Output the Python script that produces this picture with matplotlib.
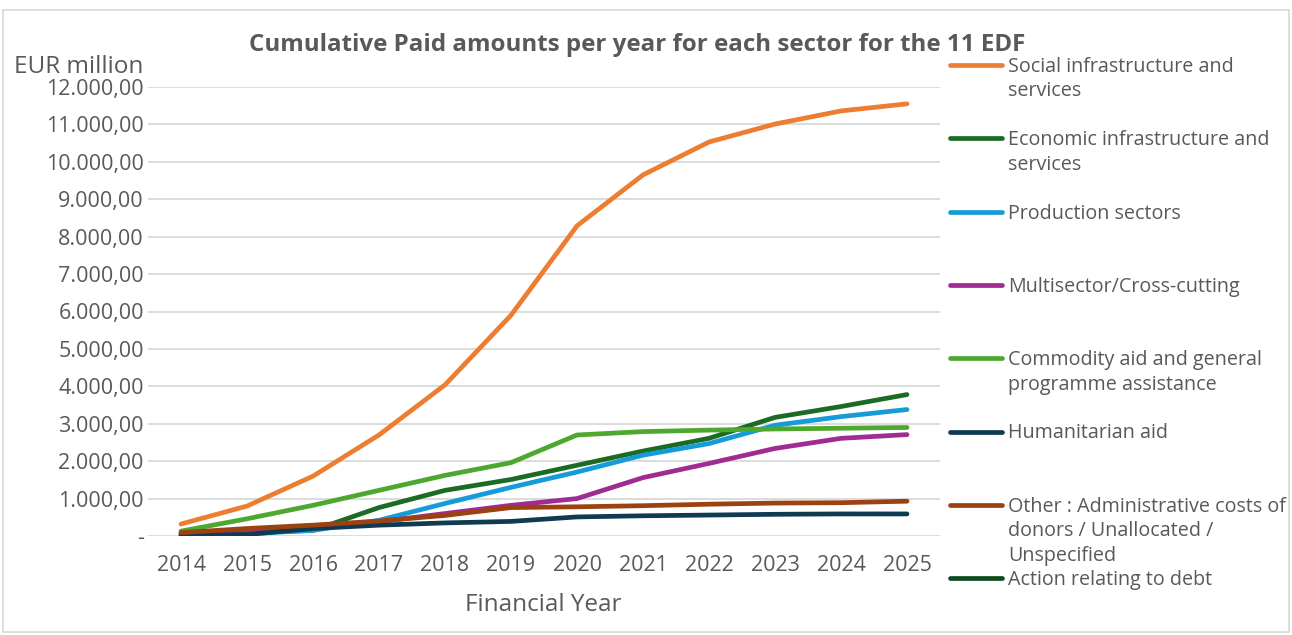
import numpy as np
import matplotlib.pyplot as plt
from matplotlib.lines import Line2D
from matplotlib.ticker import FuncFormatter, MultipleLocator

plt.rcParams['font.family'] = ['Open Sans', 'DejaVu Sans']

years = ['2014', '2015', '2016', '2017', '2018', '2019', '2020', '2021', '2022', '2023', '2024', '2025']

social = [320, 800, 1600, 2700, 4040, 5900, 8290, 9650, 10530, 11010, 11360, 11550]
economic = [60, 90, 150, 760, 1220, 1510, 1890, 2270, 2610, 3170, 3460, 3780]
production = [20, 60, 150, 420, 870, 1300, 1710, 2160, 2470, 2960, 3190, 3380]
multisector = [60, 120, 240, 380, 600, 820, 1000, 1560, 1940, 2340, 2610, 2710]
commodity = [130, 460, 820, 1220, 1620, 1960, 2700, 2790, 2830, 2860, 2880, 2900]
humanitarian = [10, 40, 200, 290, 350, 390, 510, 540, 560, 580, 590, 590]
other = [90, 200, 290, 400, 550, 760, 780, 810, 850, 880, 890, 930]
debt = [None] * 12  # no visible values

series = [
    ('Social infrastructure and\nservices', social, '#ED7D31'),
    ('Economic infrastructure and\nservices', economic, '#1B6B25'),
    ('Production sectors', production, '#159BD7'),
    ('Multisector/Cross-cutting', multisector, '#A02B93'),
    ('Commodity aid and general\nprogramme assistance', commodity, '#4EA72E'),
    ('Humanitarian aid', humanitarian, '#0E3A52'),
    ('Other : Administrative costs of\ndonors / Unallocated /\nUnspecified', other, '#9C4110'),
    ('Action relating to debt', debt, '#0F4A1F'),
]

grey = '#595959'

fig = plt.figure(figsize=(12.92, 6.35), dpi=100)
ax = fig.add_axes([148 / 1292, 1 - 536 / 635, 792 / 1292, 449 / 635])

x = np.arange(len(years))
for name, vals, col in series:
    v = np.array([np.nan if a is None else a for a in vals], dtype=float)
    ax.plot(x, v, color=col, lw=3.4, solid_capstyle='round', solid_joinstyle='round')

ax.set_xlim(-0.5, len(years) - 0.5)
ax.set_ylim(0, 12000)
ax.yaxis.set_major_locator(MultipleLocator(1000))


def eur(v, pos):
    if v == 0:
        return '-'
    s = f'{v:,.2f}'
    return s.replace(',', 'X').replace('.', ',').replace('X', '.')


ax.yaxis.set_major_formatter(FuncFormatter(eur))
ax.set_xticks(x)
ax.set_xticklabels(years)
ax.tick_params(length=0, labelsize=15.5, labelcolor=grey)
ax.tick_params(axis='x', pad=14)
ax.tick_params(axis='y', pad=3)
ax.grid(axis='y', color='#d9d9d9', lw=1.3)
ax.set_axisbelow(True)
for s in ax.spines.values():
    s.set_visible(False)

fig.text(637 / 1292, 1 - 45 / 635, 'Cumulative Paid amounts per year for each sector for the 11 EDF',
         ha='center', va='center', fontsize=17.4, fontweight='bold', color=grey)
fig.text(14 / 1292, 1 - 67 / 635, 'EUR million', ha='left', va='center', fontsize=17.5, color=grey)
fig.text(543 / 1292, 1 - 605 / 635, 'Financial Year', ha='center', va='center', fontsize=17.5, color=grey)

# legend, evenly spaced slots, handle aligned with first text line
for i, (name, vals, col) in enumerate(series):
    yy = 1 - (65 + i * 73.3) / 635
    fig.add_artist(Line2D([950 / 1292, 1002 / 1292], [yy, yy], color=col, lw=3.4,
                          solid_capstyle='round', transform=fig.transFigure))
    fig.text(1008 / 1292, yy + 8 / 635, name, ha='left', va='top', fontsize=14.2,
             color=grey, linespacing=1.3)

# outer frame
fig.add_artist(plt.Rectangle((3 / 1292, 3 / 635), 1 - 6 / 1292, 1 - 13 / 635, fill=False,
                             ec='#d9d9d9', lw=1.2, transform=fig.transFigure))

fig.savefig('out.png', dpi=100)
